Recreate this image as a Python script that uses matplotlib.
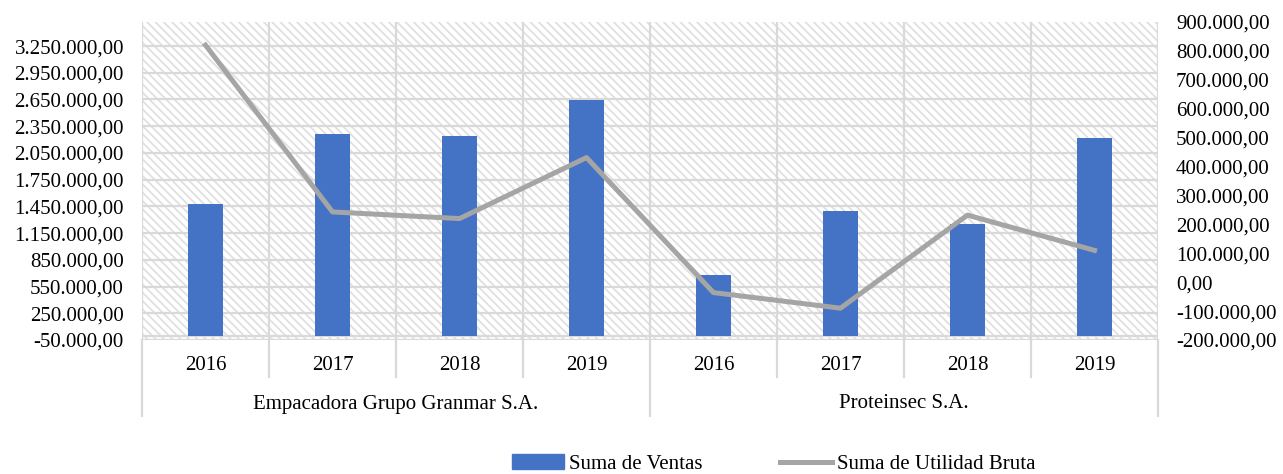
import matplotlib.pyplot as plt
from matplotlib.patches import Rectangle, Patch
from matplotlib.lines import Line2D
from matplotlib.ticker import FuncFormatter

plt.rcParams['font.family'] = ['Liberation Serif', 'DejaVu Serif']
plt.rcParams['font.size'] = 15
plt.rcParams['hatch.color'] = '#e0e0e0'
plt.rcParams['hatch.linewidth'] = 1.3

# data
companies = ['Empacadora Grupo Granmar S.A.', 'Proteinsec S.A.']
years = ['2016', '2017', '2018', '2019']
ventas = [1472000, 2258000, 2236000, 2640000, 675000, 1394000, 1256000, 2213000]
utilidad = [820000, 243000, 220000, 431000, -36000, -90000, 232000, 110000]
left_ticks = list(range(-50000, 3250001, 300000))
right_ticks = list(range(-200000, 900001, 100000))

bar_color = '#4472C4'
line_color = '#A5A5A5'
grid_color = '#D9D9D9'


def es_fmt(v, pos=None):
    s = '{:,.2f}'.format(v)
    return s.replace(',', 'X').replace('.', ',').replace('X', '.')


fig = plt.figure(figsize=(12.83, 4.74), dpi=100)
ax = fig.add_axes([142 / 1283, 134 / 474, 1016 / 1283, 318 / 474])
n = len(ventas)
x = list(range(n))

# hatched plot area background
ax.add_patch(Rectangle((0, 0), 1, 1, transform=ax.transAxes, facecolor='white',
                       edgecolor='#e0e0e0', hatch='\\\\\\\\', lw=0, zorder=0))

ax.bar(x, ventas, width=0.28, color=bar_color, zorder=3, label='Suma de Ventas')
ax.set_xlim(-0.5, n - 0.5)
ax.set_ylim(-50000, 3520000)
ax.set_yticks(left_ticks)
ax.yaxis.set_major_formatter(FuncFormatter(es_fmt))
for t in left_ticks:
    ax.axhline(t, color=grid_color, lw=1.6, zorder=1)
ax.axhline(0, color=grid_color, lw=1.6, zorder=1)
for b in range(n + 1):
    ax.axvline(b - 0.5, color=grid_color, lw=1.6, zorder=1)
ax.set_xticks([])
ax.tick_params(axis='y', length=0, pad=13)
for s in ax.spines.values():
    s.set_visible(False)

ax2 = ax.twinx()
ax2.plot(x, utilidad, color=line_color, lw=3.6, zorder=4)
ax2.set_ylim(-200000, 900000)
ax2.set_yticks(right_ticks)
ax2.yaxis.set_major_formatter(FuncFormatter(es_fmt))
ax2.tick_params(axis='y', length=0, pad=13)
for s in ax2.spines.values():
    s.set_visible(False)
ax2.patch.set_visible(False)

# multi-level category axis
trans = ax.get_xaxis_transform()
for i in range(n):
    ax.text(i, -25 / 318, years[i % 4], transform=trans, ha='center', va='center')
for j, name in enumerate(companies):
    ax.text(1.5 + 4 * j, -64 / 318, name, transform=trans, ha='center', va='center')
for b in range(n + 1):
    bottom = -76 / 318 if b % 4 == 0 else -37 / 318
    ax.plot([b - 0.5, b - 0.5], [0, bottom], transform=trans, color=grid_color,
            lw=1.6, clip_on=False)

handles = [Patch(color=bar_color), Line2D([], [], color=line_color, lw=3.6)]
fig.legend(handles, ['Suma de Ventas', 'Suma de Utilidad Bruta'], loc='center',
           bbox_to_anchor=(774 / 1283, 10 / 474), ncol=2, frameon=False,
           handlelength=2.5, handletextpad=0.25, columnspacing=3.7)

fig.savefig('out.png', dpi=100)
